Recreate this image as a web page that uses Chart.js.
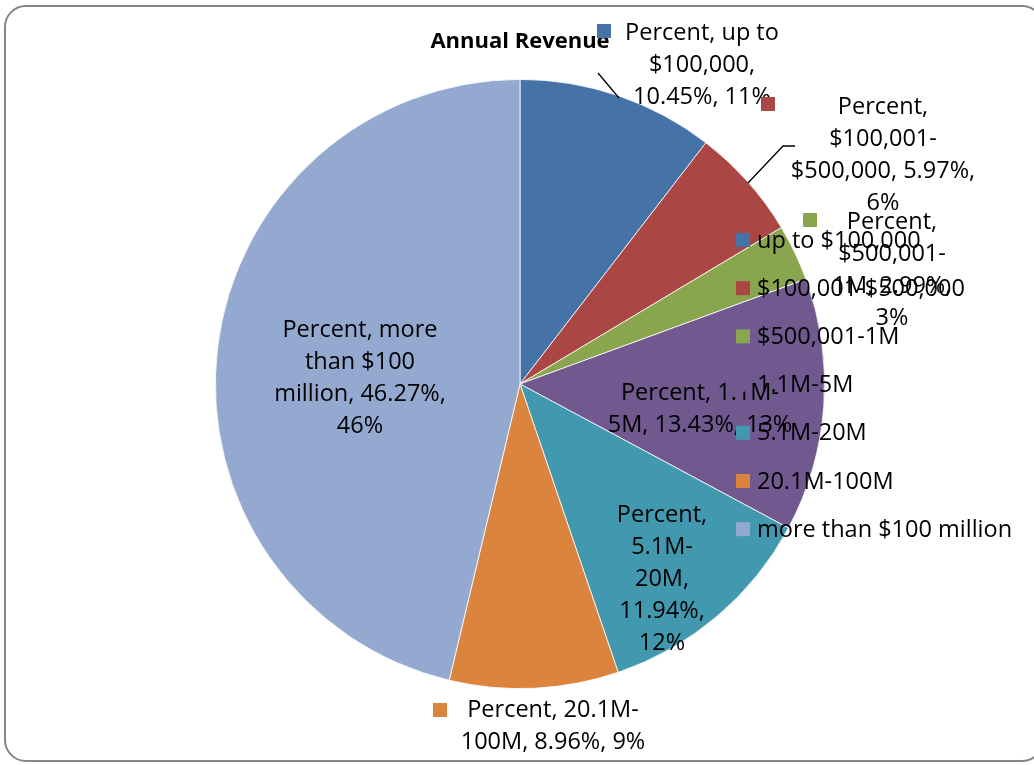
<!DOCTYPE html>
<html>
<head>
<meta charset="utf-8">
<script src="https://cdn.jsdelivr.net/npm/chart.js@4.4.0/dist/chart.umd.min.js"></script>
<style>
  html, body { margin: 0; padding: 0; background: #fff; }
  #wrap { position: relative; width: 1034px; height: 765px; overflow: hidden; }
  #frame { position: absolute; left: 4px; top: 5px; width: 1040px; height: 757px;
           border: 2px solid #868686; border-radius: 22px; box-sizing: border-box; }
  canvas { position: absolute; left: 0; top: 0; }
</style>
</head>
<body>
<div id="wrap">
  <div id="frame"></div>
  <canvas id="grafico_receita" width="1034" height="765"></canvas>
</div>
<script>
// ---------- dados ----------
const categorias = ["up to $100,000", "$100,001-$500,000", "$500,001-1M", "1.1M-5M",
                    "5.1M-20M", "20.1M-100M", "more than $100 million"];
const percentuais = [10.45, 5.97, 2.99, 13.43, 11.94, 8.96, 46.27];
const arredondados = ["11%", "6%", "3%", "13%", "12%", "9%", "46%"];
const nomeSerie = "Percent";
const cores = ["#4572A7", "#AA4643", "#89A54E", "#71588F", "#4198AF", "#DB843D", "#93A9CF"];

// quebras de linha dos rótulos (como o Excel fez)
const linhasRotulo = [
  ["Percent, up to", "$100,000,", "10.45%, 11%"],
  ["Percent,", "$100,001-", "$500,000, 5.97%,", "6%"],
  ["Percent,", "$500,001-", "1M, 2.99%,", "3%"],
  ["Percent, 1.1M-", "5M, 13.43%, 13%"],
  ["Percent,", "5.1M-", "20M,", "11.94%,", "12%"],
  ["Percent, 20.1M-", "100M, 8.96%, 9%"],
  ["Percent, more", "than $100", "million, 46.27%,", "46%"]
];
// posição (centro da 1a linha) e chave de cor de cada rótulo
const posRotulo = [
  { x: 702, y: 33, chave: [597, 24] },
  { x: 883, y: 107, chave: [761, 97] },
  { x: 892, y: 222, chave: [803, 213] },
  { x: 700, y: 393, chave: null },
  { x: 662, y: 515, chave: null },
  { x: 553, y: 710, chave: [433, 703] },
  { x: 360, y: 330, chave: null }
];
const linhasGuia = [
  [[598, 73], [619, 98]],
  [[795, 146], [783, 146], [748, 183]]
];

const FONTE = "'Open Sans', sans-serif";

const rotulosPlugin = {
  id: "rotulos",
  afterDraw(chart) {
    const c = chart.ctx;
    c.save();
    // título
    c.fillStyle = "#000";
    c.font = "bold 22px " + FONTE;
    c.textAlign = "center";
    c.textBaseline = "middle";
    c.fillText("Annual Revenue", 520, 42);

    // linhas guia
    c.strokeStyle = "#000";
    c.lineWidth = 1.3;
    linhasGuia.forEach(l => {
      c.beginPath();
      c.moveTo(l[0][0], l[0][1]);
      for (let i = 1; i < l.length; i++) c.lineTo(l[i][0], l[i][1]);
      c.stroke();
    });

    // rótulos de dados
    c.font = "23.5px " + FONTE;
    linhasRotulo.forEach((linhas, i) => {
      const p = posRotulo[i];
      if (p.chave) {
        c.fillStyle = cores[i];
        c.fillRect(p.chave[0], p.chave[1], 14, 14);
      }
      c.fillStyle = "#000";
      c.textAlign = "center";
      linhas.forEach((t, k) => c.fillText(t, p.x, p.y + k * 32));
    });

    // legenda sobreposta
    c.textAlign = "left";
    categorias.forEach((cat, i) => {
      const y = 240 + i * 48.2;
      c.fillStyle = cores[i];
      c.fillRect(736, y - 7, 14, 14);
      c.fillStyle = "#000";
      c.fillText(cat, 757, y + 1);
    });
    c.restore();
  }
};

const ctx = document.getElementById("grafico_receita").getContext("2d");
new Chart(ctx, {
  type: "pie",
  data: {
    labels: categorias,
    datasets: [{
      label: nomeSerie,
      data: percentuais,
      backgroundColor: cores,
      borderColor: "#ffffff",
      borderWidth: 0.8
    }]
  },
  options: {
    responsive: false,
    animation: false,
    devicePixelRatio: 1,
    layout: { padding: { left: 215, right: 209, top: 79, bottom: 76 } },
    plugins: {
      legend: { display: false },
      title: { display: false },
      tooltip: { enabled: false }
    }
  },
  plugins: [rotulosPlugin]
});
</script>
</body>
</html>
